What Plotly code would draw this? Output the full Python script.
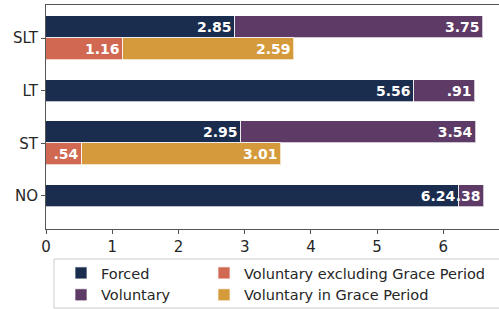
import plotly.graph_objects as go

categories = ["NO", "ST", "LT", "SLT"]
forced = [6.24, 2.95, 5.56, 2.85]
voluntary = [0.38, 3.54, 0.91, 3.75]
vol_excl_grace = [None, 0.54, None, 1.16]
vol_in_grace = [None, 3.01, None, 2.59]
x_ticks = [0, 1, 2, 3, 4, 5, 6]

C_FORCED = "#1b2d4e"
C_VOL = "#5e3a66"
C_EXCL = "#d06852"
C_GRACE = "#d49a3c"

BW = 0.42
idx = list(range(len(categories)))
paired = [v is not None for v in vol_excl_grace]
top_pos = [i + (BW / 2 if p else 0) for i, p in zip(idx, paired)]
bot_pos = [i - BW / 2 for i, p in zip(idx, paired) if p]
excl_vals = [v for v in vol_excl_grace if v is not None]
grace_vals = [v for v in vol_in_grace if v is not None]


def fmt(v):
    s = f"{v:.2f}"
    return s[1:] if s.startswith("0") else s


FONT = "DejaVu Sans"
txt_font = dict(family=FONT, size=14, color="white", weight="bold")
edge = dict(color="rgba(255,255,255,0.7)", width=1)


def bar(name, x, y, color, legend):
    return go.Bar(
        name=name, x=x, y=y, orientation="h", width=BW,
        marker=dict(color=color, line=edge),
        text=[fmt(v) for v in x], textposition="inside", insidetextanchor="end",
        constraintext="none", textfont=txt_font, legend=legend,
        hoverinfo="x+name",
    )


fig = go.Figure()
fig.add_trace(bar("Forced", forced, top_pos, C_FORCED, "legend"))
fig.add_trace(bar("Voluntary", voluntary, top_pos, C_VOL, "legend"))
fig.add_trace(bar("Voluntary excluding Grace Period", excl_vals, bot_pos, C_EXCL, "legend2"))
fig.add_trace(bar("Voluntary in Grace Period", grace_vals, bot_pos, C_GRACE, "legend2"))

axis_common = dict(
    showline=True, mirror=True, linecolor="#555555", linewidth=1,
    ticks="outside", ticklen=4, tickcolor="#555555", showgrid=False, zeroline=False,
    tickfont=dict(family=FONT, size=15, color="#262626"), automargin=False,
)

PW, PH = 453, 224
leg_common = dict(
    orientation="v", yanchor="top", y=(229 - 257) / PH, xanchor="left",
    font=dict(family=FONT, size=14.5, color="#262626"),
    bgcolor="rgba(0,0,0,0)", borderwidth=0, tracegroupgap=0, traceorder="normal",
)

fig.update_layout(
    width=499, height=309,
    margin=dict(l=46, r=0, t=5, b=80, autoexpand=False),
    paper_bgcolor="white", plot_bgcolor="white",
    barmode="stack", bargap=0,
    xaxis=dict(range=[0, 6.84], tickvals=x_ticks, **axis_common),
    yaxis=dict(range=[-0.63, 3.63], tickvals=idx, ticktext=categories, **axis_common),
    legend=dict(x=(61 - 46) / PW, **leg_common),
    legend2=dict(x=(204 - 46) / PW, **leg_common),
    shapes=[dict(type="rect", xref="paper", yref="paper",
                 x0=(54 - 46) / PW, x1=1.05, y0=(229 - 308) / PH, y1=(229 - 259) / PH,
                 line=dict(color="#cccccc", width=1), fillcolor="rgba(0,0,0,0)")],
    showlegend=True,
)

fig.write_html(
    "out.html",
    config={"displayModeBar": False},
    post_script="document.body.style.margin='0';document.body.style.overflow='hidden';",
)
